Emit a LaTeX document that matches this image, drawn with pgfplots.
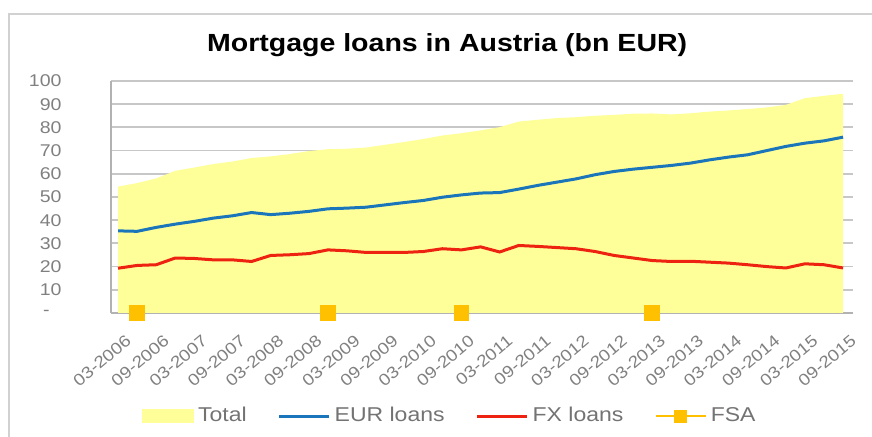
\documentclass[border=0pt]{standalone}
\usepackage{fontspec}
\setmainfont{Liberation Sans}[FakeStretch=1.15]
\usepackage{pgfplots}
\pgfplotsset{compat=1.18}
\definecolor{totfill}{HTML}{FFFF99}
\definecolor{eurblue}{HTML}{1B75BB}
\definecolor{fxred}{HTML}{EE2211}
\definecolor{fsaorange}{HTML}{FFC000}

% quarterly data, 03-2006 = 0 ... 09-2015 = 38
\pgfplotstableread{
i total eur fx
0 54.5 35.4 19.3
1 56.0 35.2 20.5
2 58.0 36.9 20.8
3 61.3 38.3 23.7
4 62.7 39.5 23.5
5 64.2 40.9 22.9
6 65.3 41.9 22.9
7 66.8 43.3 22.2
8 67.5 42.4 24.8
9 68.5 43.0 25.1
10 69.8 43.8 25.6
11 70.6 44.9 27.2
12 70.8 45.2 26.8
13 71.3 45.6 26.1
14 72.5 46.6 26.1
15 73.7 47.6 26.1
16 75.0 48.5 26.5
17 76.5 49.9 27.7
18 77.5 50.9 27.2
19 78.7 51.7 28.5
20 80.1 51.9 26.3
21 82.5 53.4 29.1
22 83.3 55.0 28.7
23 84.0 56.4 28.2
24 84.4 57.8 27.7
25 85.0 59.6 26.5
26 85.4 61.0 24.8
27 85.9 62.0 23.7
28 86.0 62.8 22.6
29 85.6 63.6 22.2
30 86.1 64.6 22.3
31 86.8 66.0 21.9
32 87.3 67.2 21.5
33 87.9 68.2 20.8
34 88.6 70.0 20.0
35 89.7 71.8 19.4
36 92.6 73.2 21.2
37 93.6 74.2 20.8
38 94.5 75.8 19.4
}\loans

\begin{document}
\begin{tikzpicture}
\useasboundingbox (0,0) rectangle (436pt,218.5pt);
\draw[black!18, line width=1pt] (4.5pt,0pt) -- (4.5pt,211.5pt) -- (436pt,211.5pt);
\begin{axis}[
  at={(55.5pt,62pt)}, anchor=south west,
  scale only axis, width=371pt, height=116pt,
  xmin=-0.37, xmax=38.52, ymin=0, ymax=100,
  axis x line=bottom, axis y line=left,
  axis line style={-, black!30, line width=0.9pt},
  ymajorgrids, grid style={black!22, line width=0.9pt},
  major tick length=0pt,
  ytick={0,10,...,100},
  yticklabels={{-\hspace*{6pt}},10,20,30,40,50,60,70,80,90,100},
  yticklabel style={anchor=east, inner sep=0pt, xshift=-24.5pt, font=\fontsize{8.5}{10}\selectfont, text=black!50},
  xtick={0,2,...,38},
  xticklabels={03-2006,09-2006,03-2007,09-2007,03-2008,09-2008,03-2009,09-2009,03-2010,09-2010,03-2011,09-2011,03-2012,09-2012,03-2013,09-2013,03-2014,09-2014,03-2015,09-2015},
  xticklabel style={rotate=40, anchor=north east, inner sep=0pt, yshift=-10pt, xshift=-4pt, font=\fontsize{8.2}{9}\selectfont, text=black!50},
  title={Mortgage loans in Austria (bn EUR)},
  every axis title shift=0pt,
  title style={at={(0.453,1.155)}, anchor=center, font=\fontsize{12.4}{14}\selectfont\bfseries},
  legend columns=4,
  legend style={at={(0.458,-0.444)}, anchor=center, draw=none, fill=none,
    font=\fontsize{10}{12}\selectfont, text=black!55,
    /tikz/every even column/.append style={column sep=13.5pt}},
  clip=false,
]
\addplot[draw=none, fill=totfill,
  legend image code/.code={\fill[totfill] (0pt,-3.5pt) rectangle (26pt,3.5pt);}]
  table[x=i, y=total] {\loans} \closedcycle;
\addlegendentry{Total}
\addplot[eurblue, line width=1.5pt, no marks,
  legend image code/.code={\draw[eurblue, line width=1.5pt] (0pt,0pt) -- (25pt,0pt);}]
  table[x=i, y=eur] {\loans};
\addlegendentry{EUR loans}
\addplot[fxred, line width=1.5pt, no marks,
  legend image code/.code={\draw[fxred, line width=1.5pt] (0pt,0pt) -- (25pt,0pt);}]
  table[x=i, y=fx] {\loans};
\addlegendentry{FX loans}
\addplot[only marks, mark=square*, mark size=3.7pt, mark options={fill=fsaorange, draw=fsaorange},
  legend image code/.code={\draw[fsaorange, line width=1.2pt] (0pt,0pt) -- (25pt,0pt);
    \fill[fsaorange] (9.5pt,-3pt) rectangle (15.5pt,3pt);}]
  coordinates {(1,0) (11,0) (18,0) (28,0)};
\addlegendentry{FSA}
\end{axis}
\end{tikzpicture}
\end{document}
